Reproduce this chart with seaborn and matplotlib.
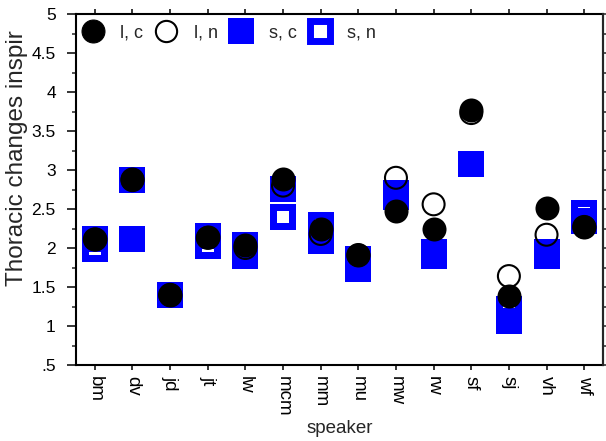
import numpy as np
import pandas as pd
import matplotlib
matplotlib.use("Agg")
import matplotlib.pyplot as plt
from matplotlib.lines import Line2D
from matplotlib.markers import MarkerStyle
from matplotlib.ticker import MultipleLocator
import seaborn as sns

speakers = ["bm", "dv", "jd", "jt", "lw", "mcm", "mm", "mu", "mw", "rw", "sf", "sj", "vh", "wf"]
l_c = [2.12, 2.88, 1.40, 2.14, 2.04, 2.88, 2.25, 1.91, 2.48, 2.25, 3.77, 1.39, 2.51, 2.27]
l_n = [2.11, 2.87, 1.40, 2.13, 2.00, 2.80, 2.18, 1.91, 2.90, 2.56, 3.73, 1.64, 2.17, 2.27]
s_c = [2.12, 2.12, 1.40, 2.15, 1.90, 2.76, 2.09, 1.73, 2.65, 1.90, 3.08, 1.07, 1.90, 2.34]
s_n = [1.99, 2.87, 1.40, 2.02, 2.04, 2.40, 2.29, 1.86, 2.70, 1.95, 3.08, 1.22, 1.95, 2.45]
legend_labels = ["l, c", "l, n", "s, c", "s, n"]
ytick_vals = [0.5, 1, 1.5, 2, 2.5, 3, 3.5, 4, 4.5, 5]
ytick_labels = [".5", "1", "1.5", "2", "2.5", "3", "3.5", "4", "4.5", "5"]

df = pd.DataFrame({"speaker": speakers, "l_c": l_c, "l_n": l_n, "s_c": s_c, "s_n": s_n})

sns.set_style("ticks")
plt.rcParams["font.family"] = ["Liberation Sans", "DejaVu Sans"]

fig = plt.figure(figsize=(6.06, 4.41), dpi=100)
ax = fig.add_axes([76 / 606, 1 - 365 / 441, 527 / 606, 351 / 441])

blue = "#0000ff"
# s, n : blue square with white hole (drawn in two layers to keep sharp corners)
sns.scatterplot(data=df, x="speaker", y="s_n", ax=ax, marker="s", s=18.7 ** 2,
                color=blue, linewidth=0, legend=False, zorder=2)
sns.scatterplot(data=df, x="speaker", y="s_n", ax=ax, marker="s", s=8.7 ** 2,
                color="white", linewidth=0, legend=False, zorder=2)
# s, c : filled blue square
sns.scatterplot(data=df, x="speaker", y="s_c", ax=ax, marker="s", s=18.7 ** 2,
                color=blue, linewidth=0, legend=False, zorder=3)
# l, n : open circle
sns.scatterplot(data=df, x="speaker", y="l_n", ax=ax, marker="o", s=15.8 ** 2,
                color="black", facecolor="none", edgecolor="black", linewidth=1.5,
                legend=False, zorder=4)
# l, c : filled black circle
sns.scatterplot(data=df, x="speaker", y="l_c", ax=ax, marker="o", s=17.3 ** 2,
                color="black", linewidth=0, legend=False, zorder=5)

ax.set_xlim(-0.5, len(speakers) - 0.5)
ax.set_ylim(0.5, 5)
ax.set_yticks(ytick_vals, ytick_labels)
ax.yaxis.set_minor_locator(MultipleLocator(0.25))
ax.set_xticks(range(len(speakers)), speakers)

for sp in ax.spines.values():
    sp.set_visible(True)
    sp.set_linewidth(1.5)
    sp.set_color("black")

ax.tick_params(axis="y", which="major", direction="out", length=6.5, width=1.1,
               labelsize=12.5, pad=8, colors="black")
ax.tick_params(axis="y", which="minor", direction="out", length=3.2, width=1.1)
ax.tick_params(axis="x", which="major", direction="out", length=3.5, width=1.1,
               labelsize=13.5, pad=4.5, top=True, labelrotation=270, colors="black")

ax2 = ax.twinx()
ax2.set_ylim(0.5, 5)
ax2.yaxis.set_major_locator(MultipleLocator(0.25))
ax2.set_yticklabels([])
ax2.tick_params(axis="y", direction="out", length=3.5, width=1.1)
for name, sp in ax2.spines.items():
    sp.set_visible(name == "right")
    sp.set_linewidth(1.5)

ax.set_xlabel("speaker", fontsize=13.5, labelpad=2)
ax.set_ylabel("Thoracic changes inspir", fontsize=17.5, labelpad=2.5, y=0.588)

handles = [
    Line2D([], [], linestyle="none", marker="o", markersize=16.5, mfc="black", mec="black", mew=0.8),
    Line2D([], [], linestyle="none", marker="o", markersize=15.3, mfc="white", mec="black", mew=1.5),
    Line2D([], [], linestyle="none", marker=MarkerStyle("s", joinstyle="miter"), markersize=18.7,
           mfc=blue, mec=blue, mew=0),
    Line2D([], [], linestyle="none", marker=MarkerStyle("s", joinstyle="miter"), markersize=13.7,
           mfc="white", mec=blue, mew=5),
]
ax.legend(handles, legend_labels, ncol=4, frameon=False, loc="center left",
          bbox_to_anchor=(0.0076, 0.946), borderpad=0, borderaxespad=0,
          handlelength=1.4, handletextpad=0.83, columnspacing=0.58, fontsize=13)

fig.savefig("out.png", dpi=100)
